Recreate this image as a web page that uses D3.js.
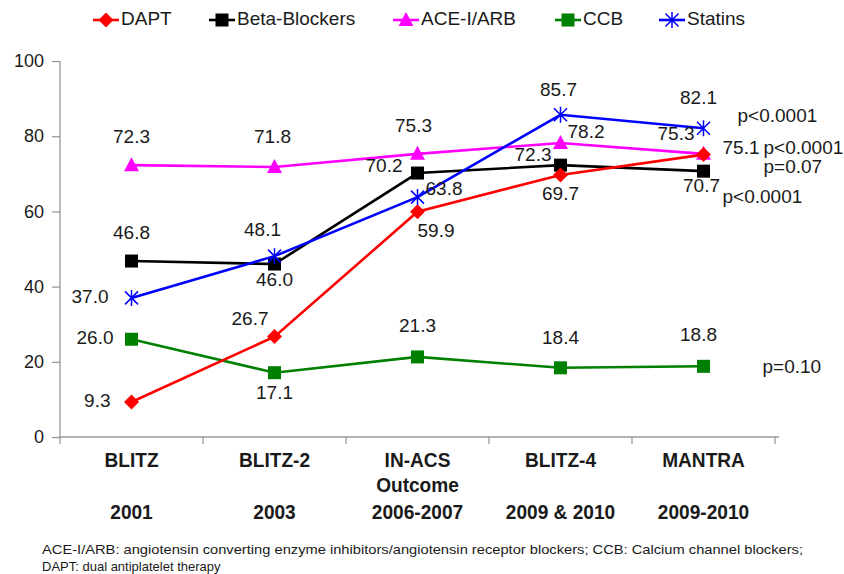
<!DOCTYPE html>
<html>
<head>
<meta charset="utf-8">
<title>Secondary prevention drug use across registries</title>
<script src="https://d3js.org/d3.v7.min.js"></script>
<style>
  body { margin: 0; background: #fff; }
  text { font-family: 'Liberation Sans', Arial, sans-serif; fill: #1a1a1a; }
  .xlab { font-family: 'Liberation Sans', Arial, sans-serif; font-weight: bold; font-size: 21px; }
</style>
</head>
<body>
<div id="chart"></div>
<script>
// studies along the x axis (name, optional 2nd line, years)
var studies = ["BLITZ", "BLITZ-2", "IN-ACS", "BLITZ-4", "MANTRA"];
var studies2 = ["", "", "Outcome", "", ""];
var years = ["2001", "2003", "2006-2007", "2009 & 2010", "2009-2010"];

var seriesNames = ["DAPT", "Beta-Blockers", "ACE-I/ARB", "CCB", "Statins"];
var dapt = [9.3, 26.7, 59.9, 69.7, 75.1];
var beta = [46.8, 46.0, 70.2, 72.3, 70.7];
var ace = [72.3, 71.8, 75.3, 78.2, 75.3];
var ccb = [26.0, 17.1, 21.3, 18.4, 18.8];
var statins = [37.0, 48.1, 63.8, 85.7, 82.1];
var pValues = ["p<0.0001", "p=0.07", "p<0.0001", "p=0.10", "p<0.0001"];
var yTicks = [0, 20, 40, 60, 80, 100];

var colors = ["#ff0000", "#000000", "#ff00ff", "#008000", "#0000ff"];
var shapes = ["diamond", "square", "triangle", "square", "star"];

// label placement next to each point: [dx, dy, anchor]
var labelPlace = [
  [[-21, 0, "end"], [-6, -17, "end"], [0, 20, "start"], [0, 20, "middle"], [19, -6, "start"]],
  [[0, -27, "middle"], [0, 17, "middle"], [-15, -6, "end"], [-9, -9, "end"], [-2, 16, "middle"]],
  [[0, -27, "middle"], [-2, -29, "middle"], [-4, -27, "middle"], [7, -10, "start"], [-9, -19, "end"]],
  [[-18, 0, "end"], [0, 21, "middle"], [0, -30, "middle"], [0, -29, "middle"], [-5, -30, "middle"]],
  [[-23, 0, "end"], [-12, -25, "middle"], [8, -7, "start"], [-2, -24, "middle"], [-5, -29, "middle"]]
];
// p-value positions relative to the last point of each series
var pPlace = [[19, 43], [60, -3], [60, -5], [59, 2], [34, -11]];
var legendX = [106, 222, 406, 568, 672];

var W = 844, H = 574;
var svg = d3.select("#chart").append("svg").attr("width", W).attr("height", H);

var x = d3.scaleBand().domain(studies).range([60, 775]);
var y = d3.scaleLinear().domain([0, 100]).range([437, 61]);

// y axis
var yAxis = svg.append("g").attr("transform", "translate(60,0)")
  .call(d3.axisLeft(y).tickValues(yTicks).tickSize(8).tickPadding(8));
yAxis.selectAll("path, line").attr("stroke", "#999").attr("stroke-width", 1.3);
yAxis.selectAll("text").style("font-size", "18px").attr("fill", "#1a1a1a")
  .style("font-family", "'Liberation Sans', Arial, sans-serif");
yAxis.select(".domain").attr("d", "M0,437V61");

// x axis line with ticks at band borders
var xg = svg.append("g");
xg.append("line").attr("x1", 60).attr("x2", 779).attr("y1", y(0)).attr("y2", y(0))
  .attr("stroke", "#999").attr("stroke-width", 1.3);
var borders = studies.map(function(s) { return x(s); }).concat([x(studies[4]) + x.bandwidth()]);
xg.selectAll(".bt").data(borders).enter().append("line")
  .attr("x1", function(d) { return d; }).attr("x2", function(d) { return d; })
  .attr("y1", y(0)).attr("y2", y(0) + 7)
  .attr("stroke", "#999").attr("stroke-width", 1.3);

var cx = function(i) { return x(studies[i]) + x.bandwidth() / 2; };

// narrow bold category labels
function xText(txt, px, py) {
  xg.append("text").attr("class", "xlab")
    .attr("transform", "translate(" + px + "," + py + ") scale(0.91,1)")
    .attr("text-anchor", "middle").attr("dominant-baseline", "middle").text(txt);
}
studies.forEach(function(s, i) {
  xText(s, cx(i), 461);
  if (studies2[i]) xText(studies2[i], cx(i), 486);
  xText(years[i], cx(i), 513);
});

function marker(g, shape, color, px, py) {
  if (shape === "square") {
    g.append("rect").attr("x", px - 6.5).attr("y", py - 6.5).attr("width", 13).attr("height", 13).attr("fill", color);
  } else if (shape === "diamond") {
    g.append("path").attr("d", "M" + px + "," + (py - 7.5) + "L" + (px + 7.5) + "," + py + "L" + px + "," + (py + 7.5) + "L" + (px - 7.5) + "," + py + "Z").attr("fill", color);
  } else if (shape === "triangle") {
    g.append("path").attr("d", "M" + px + "," + (py - 8) + "L" + (px + 7.5) + "," + (py + 6) + "L" + (px - 7.5) + "," + (py + 6) + "Z").attr("fill", color);
  } else {
    var r = 6.5;
    g.append("path").attr("d",
      "M" + (px - r) + "," + (py - r) + "L" + (px + r) + "," + (py + r) +
      "M" + (px - r) + "," + (py + r) + "L" + (px + r) + "," + (py - r) +
      "M" + px + "," + (py - r - 1.5) + "L" + px + "," + (py + r + 1.5))
      .attr("stroke", color).attr("stroke-width", 1.5).attr("fill", "none");
  }
}

var allSeries = [dapt, beta, ace, ccb, statins];
var line = d3.line().x(function(d, i) { return cx(i); }).y(function(d) { return y(d); });

// draw order: CCB, ACE, Beta, DAPT, Statins on top
[3, 2, 1, 0, 4].forEach(function(k) {
  var g = svg.append("g");
  g.append("path").datum(allSeries[k]).attr("d", line)
    .attr("fill", "none").attr("stroke", colors[k]).attr("stroke-width", 2.6);
  allSeries[k].forEach(function(v, i) { marker(g, shapes[k], colors[k], cx(i), y(v)); });
});

// value labels
allSeries.forEach(function(vals, k) {
  svg.append("g").selectAll("text").data(vals).enter().append("text")
    .attr("x", function(d, i) { return cx(i) + labelPlace[k][i][0]; })
    .attr("y", function(d, i) { return y(d) + labelPlace[k][i][1]; })
    .attr("text-anchor", function(d, i) { return labelPlace[k][i][2]; })
    .attr("dominant-baseline", "middle")
    .style("font-size", "19px")
    .text(function(d) { return d.toFixed(1); });
});

// p-values
pValues.forEach(function(p, k) {
  var last = allSeries[k][4];
  svg.append("text").attr("x", cx(4) + pPlace[k][0]).attr("y", y(last) + pPlace[k][1])
    .attr("dominant-baseline", "middle").style("font-size", "19px").text(p);
});

// legend
var leg = svg.append("g");
seriesNames.forEach(function(n, k) {
  var lx = legendX[k];
  leg.append("line").attr("x1", lx - 13).attr("x2", lx + 13).attr("y1", 20).attr("y2", 20)
    .attr("stroke", colors[k]).attr("stroke-width", 2.6);
  marker(leg, shapes[k], colors[k], lx, 20);
  leg.append("text").attr("x", lx + 15).attr("y", 20).attr("dominant-baseline", "middle")
    .style("font-size", "19px").text(n);
});

// footnote
svg.append("text").attr("x", 42).attr("y", 551).attr("dominant-baseline", "middle")
  .style("font-size", "13px").attr("fill", "#222")
  .attr("textLength", 761).attr("lengthAdjust", "spacingAndGlyphs")
  .text("ACE-I/ARB: angiotensin converting enzyme inhibitors/angiotensin receptor blockers; CCB: Calcium channel blockers;");
svg.append("text").attr("x", 42).attr("y", 568).attr("dominant-baseline", "middle")
  .style("font-size", "13px").attr("fill", "#222")
  .text("DAPT: dual antiplatelet therapy");
</script>
</body>
</html>
